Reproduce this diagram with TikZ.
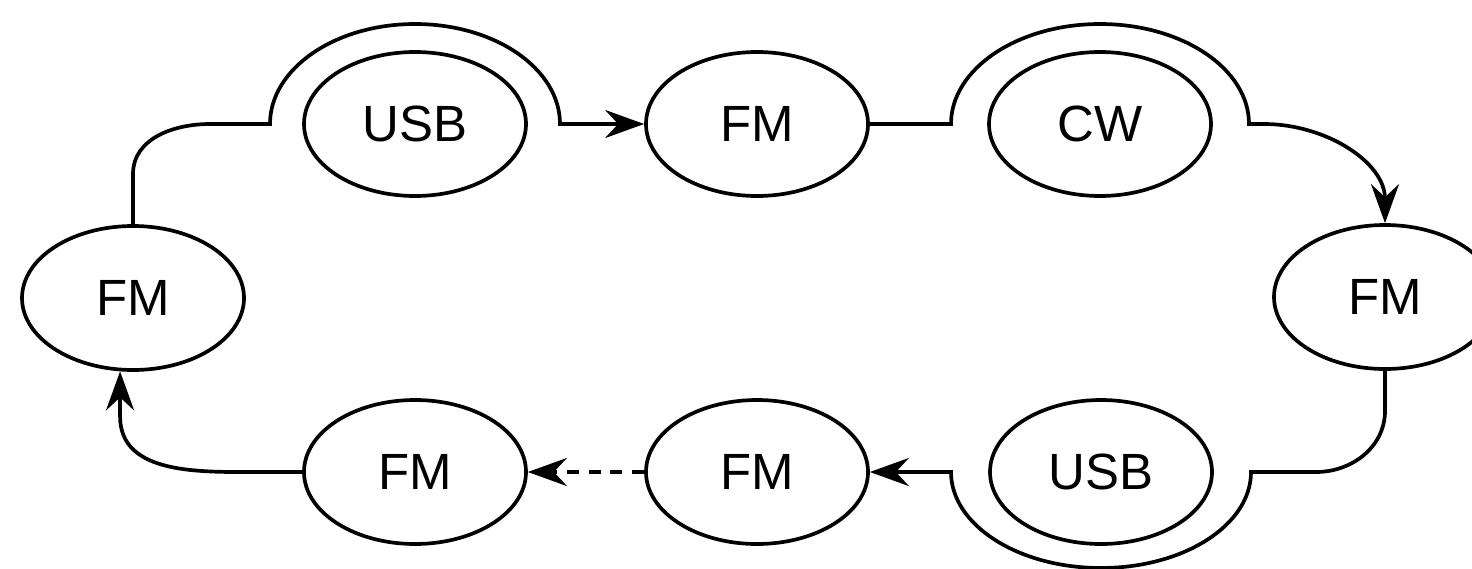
\documentclass[tikz,border=0pt]{standalone}
\usepackage{fontspec}
\setmainfont{Liberation Sans}
\usepackage{tikz}
\usetikzlibrary{arrows.meta,shapes.geometric,calc}
\tikzset{
  unit/.style={draw,ellipse,line width=2.1pt,minimum width=4.44cm,minimum height=2.88cm,inner sep=0pt,font=\fontsize{29}{34}\selectfont},
  arr/.style={-{Stealth[length=0.78cm,width=0.56cm,inset=0.26cm]},line width=2.1pt},
}
\begin{document}
\begin{tikzpicture}
\useasboundingbox (0,0) rectangle (29.44,11.36);
\node[unit] (fmL) at (2.66,5.40) {FM};
\node[unit] (usbT) at (8.30,8.88) {USB};
\node[unit] (fmT) at (15.14,8.88) {FM};
\node[unit] (cw) at (22.00,8.88) {CW};
\node[unit] (fmR) at (27.70,5.42) {FM};
\node[unit] (usbB) at (22.02,1.92) {USB};
\node[unit] (fmB) at (15.14,1.92) {FM};
\node[unit] (fmBL) at (8.30,1.92) {FM};

\draw[arr] (fmL.north) -- ++(0,1.0) to[out=90,in=180] ($(usbT)+(-4.1,0)$)
  -- ($(usbT)+(-2.9,0)$) arc[start angle=180,end angle=0,x radius=2.9,y radius=2.0] -- (fmT);
\draw[arr] (fmT) -- ($(cw)+(-2.98,0)$) arc[start angle=180,end angle=0,x radius=2.98,y radius=2.0]
  -- ++(0.3,0) to[out=0,in=90] (fmR.north);
\draw[arr] (fmR.south) -- ++(0,-0.8) to[out=-90,in=0] ($(usbB)+(4.3,0)$)
  -- ($(usbB)+(3.0,0)$) arc[start angle=0,end angle=-180,x radius=3.0,y radius=1.92] -- (fmB);
\draw[arr,dash pattern=on 6.8pt off 5.6pt] (fmB) -- (fmBL);
\draw[arr] (fmBL) -- ++(-3.1,0) to[out=180,in=-90] ($(fmL.260)+(0,-0.9)$) -- (fmL.260);
\end{tikzpicture}
\end{document}
